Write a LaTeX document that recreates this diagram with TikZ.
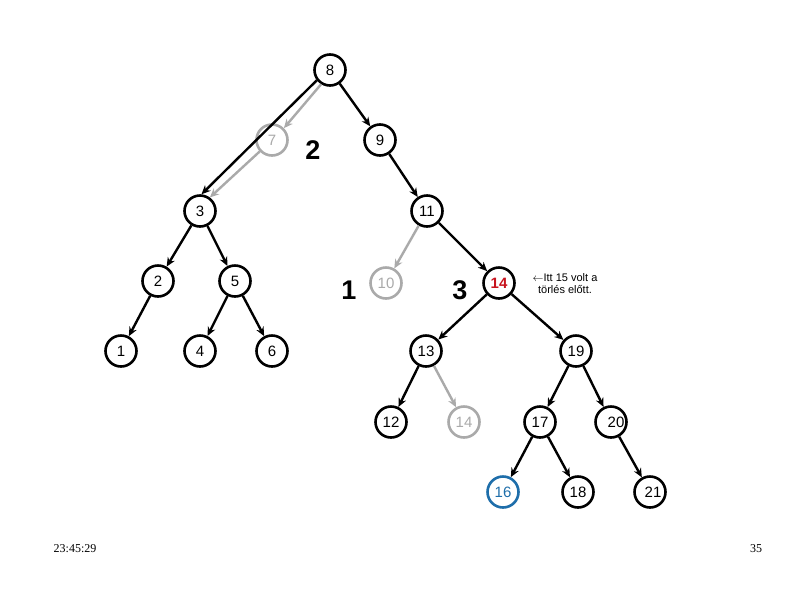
\documentclass[tikz,border=0pt]{standalone}
\usepackage{fontspec}
\setmainfont{Liberation Sans}
\newfontfamily\footfont{Liberation Serif}
\usetikzlibrary{arrows.meta}
\definecolor{lgray}{RGB}{170,170,170}
\definecolor{dred}{RGB}{200,20,30}
\definecolor{dblue}{RGB}{30,110,170}
\tikzset{
  nd/.style={circle,draw=black,line width=2.6pt,minimum size=31pt,inner sep=0pt,font=\fontsize{15}{15}\selectfont},
  gnd/.style={nd,draw=lgray,text=lgray},
  ed/.style={line width=2.4pt,-{Stealth[length=9pt,width=8pt]}},
  ged/.style={ed,draw=lgray},
  big/.style={font=\fontsize{27}{27}\selectfont\bfseries},
  note/.style={font=\fontsize{11}{12}\selectfont,align=center,inner sep=0pt},
  foot/.style={font=\footfont\fontsize{12}{12}\selectfont,inner sep=0pt}
}
\begin{document}
\begin{tikzpicture}[x=1pt,y=-1pt]
\useasboundingbox[fill=white] (0,0) rectangle (794,595);
\node[nd] (n8) at (330,70) {8};
\node[gnd] (n7) at (272,140) {7};
\node[nd] (n9) at (380,140) {9};
\node[nd] (n3) at (200,211) {3};
\node[nd] (n11) at (427,211) {11};
\node[nd] (n2) at (158,281) {2};
\node[nd] (n5) at (235,281) {5};
\node[gnd] (n10) at (386,283) {10};
\node[nd,text=dred,font=\fontsize{15}{15}\selectfont\bfseries] (n14) at (499,283) {14};
\node[nd] (n1) at (121,351) {1};
\node[nd] (n4) at (200,351) {4};
\node[nd] (n6) at (272,351) {6};
\node[nd] (n13) at (426,351) {13};
\node[nd] (n19) at (576,351) {19};
\node[nd] (n12) at (391,422) {12};
\node[gnd] (n14g) at (464,422) {14};
\node[nd] (n17) at (540,422) {17};
\node[nd] (n20) at (611,422) {\hspace*{10pt}20};
\node[nd,draw=dblue,text=dblue] (n16) at (503,492) {16};
\node[nd] (n18) at (578,492) {18};
\node[nd] (n21) at (650,492) {\hspace*{6pt}21};

\node[big] (l2) at (313,150) {2};
\node[big] (l1) at (349,290) {1};
\node[big] (l3) at (460,290) {3};
\node[note] (nt) at (565,284) {$\leftarrow$Itt 15 volt a\\ törlés előtt.};
\node[foot] (f1) at (75,549) {23:45:29};
\node[foot] (f2) at (756,549) {35};

\draw[ged] (n8.238) -- (n7.45);
\draw[ged] (n7.223) -- (n3.54);
\draw[ed] (n8.218) -- (n3.85);
\draw[ed] (n8) -- (n9);
\draw[ed] (n9) -- (n11);
\draw[ed] (n3) -- (n2);
\draw[ed] (n3) -- (n5);
\draw[ed] (n2) -- (n1);
\draw[ed] (n5) -- (n4);
\draw[ed] (n5) -- (n6);
\draw[ged] (n11) -- (n10);
\draw[ed] (n11) -- (n14);
\draw[ed] (n14) -- (n13);
\draw[ed] (n14) -- (n19);
\draw[ed] (n13) -- (n12);
\draw[ged] (n13) -- (n14g);
\draw[ed] (n19) -- (n17);
\draw[ed] (n19) -- (n20);
\draw[ed] (n17) -- (n16);
\draw[ed] (n17) -- (n18);
\draw[ed] (n20) -- (n21);
\end{tikzpicture}
\end{document}
